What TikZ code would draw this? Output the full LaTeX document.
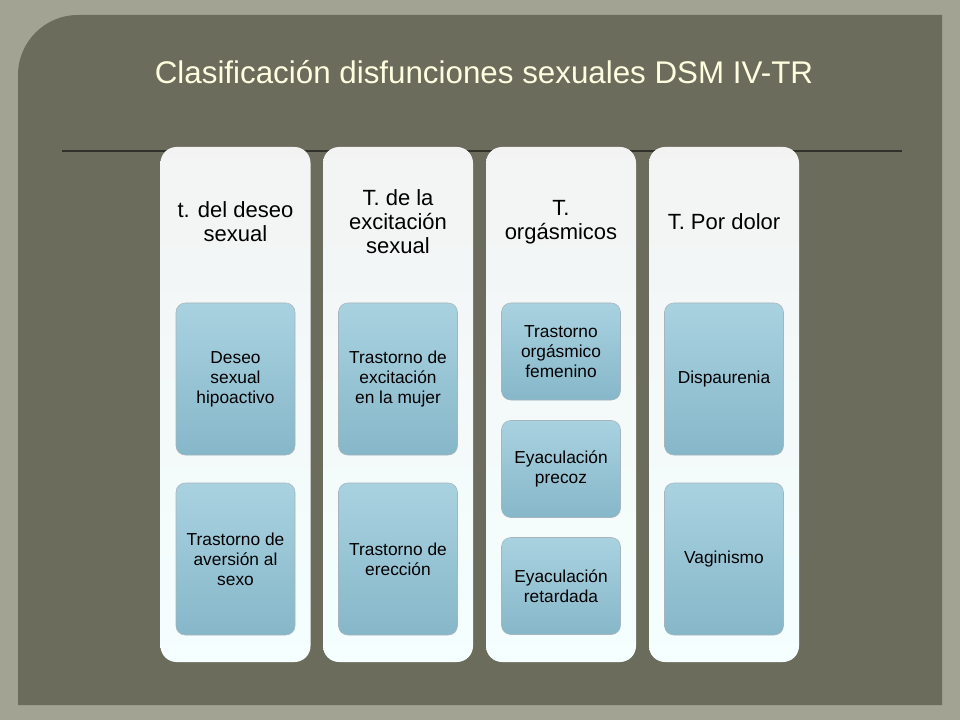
\documentclass[tikz,border=0pt]{standalone}
\usepackage{fontspec}
\setmainfont{Liberation Sans}
\begin{document}
\begin{tikzpicture}[x=0.75pt,y=-0.75pt,
  col/.style={draw=none,top color=white!88!cyan!8!gray!10,bottom color=white!92!gray!20!cyan!5,rounded corners=12pt,minimum width=150*0.75pt,minimum height=515*0.75pt},
  hd/.style={font=\fontsize{16.5}{18}\selectfont,align=center,text=black},
  box/.style={draw=white!70!cyan!40!gray,top color=boxtop,bottom color=boxbot,rounded corners=7pt,minimum width=119*0.75pt,font=\fontsize{13}{15}\selectfont,align=center,text=black}]
\definecolor{outer}{HTML}{A2A392}
\definecolor{panel}{HTML}{6B6C5C}
\definecolor{boxtop}{HTML}{A9D2E0}
\definecolor{boxbot}{HTML}{86B7C9}
\fill[outer] (0,0) rectangle (960,720);
\fill[panel] (942,705) -- (18,705) [rounded corners=45pt] -- (18,15) [sharp corners] -- (942,15) -- cycle;
\node[text=white!88!yellow,font=\fontsize{23.5}{26}\selectfont] (title) at (484,72) {Clasificación disfunciones sexuales DSM IV-TR};
\draw[black!55!panel,line width=1pt] (62,151) -- (902,151);
\foreach \n/\x in {1/235.5,2/398,3/561,4/724}{
  \node[col] (c\n) at (\x,404.5) {};
}
\node[hd] (h1) at (235.5,222) {t. del deseo\\sexual};
\node[hd] (h2) at (398,222) {T. de la\\excitación\\sexual};
\node[hd] (h3) at (561,222) {T.\\orgásmicos};
\node[hd] (h4) at (724,222) {T. Por dolor};
\node[box,minimum height=152*0.75pt] (b11) at (235.5,379) {Deseo\\sexual\\hipoactivo};
\node[box,minimum height=152*0.75pt] (b12) at (235.5,559) {Trastorno de\\aversión al\\sexo};
\node[box,minimum height=152*0.75pt] (b21) at (398,379) {Trastorno de\\excitación\\en la mujer};
\node[box,minimum height=152*0.75pt] (b22) at (398,559) {Trastorno de\\erección};
\node[box,minimum height=97*0.75pt] (b31) at (561,351.5) {Trastorno\\orgásmico\\femenino};
\node[box,minimum height=97*0.75pt] (b32) at (561,469) {Eyaculación\\precoz};
\node[box,minimum height=97*0.75pt] (b33) at (561,586) {Eyaculación\\retardada};
\node[box,minimum height=152*0.75pt] (b41) at (724,379) {Dispaurenia};
\node[box,minimum height=152*0.75pt] (b42) at (724,559) {Vaginismo};
\end{tikzpicture}
\end{document}
